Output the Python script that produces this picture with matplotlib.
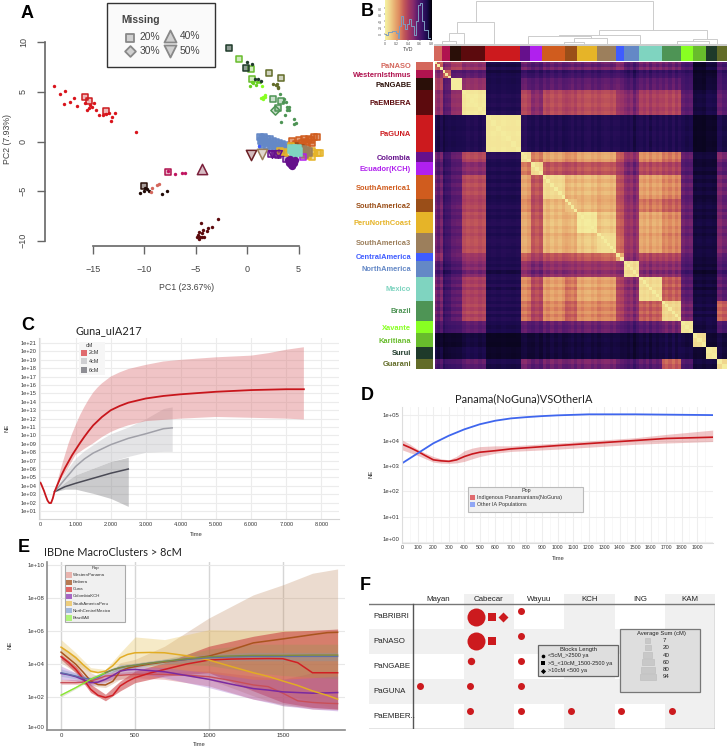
import numpy as np
import matplotlib
matplotlib.use("Agg")
import matplotlib.pyplot as plt
from matplotlib.patches import Rectangle
from matplotlib.colors import LinearSegmentedColormap

W, H = 727, 749
plt.rcParams['font.family'] = ['Liberation Sans', 'DejaVu Sans']

#-------------------------------------------------------#
#                  Panel A : PCA points                  #
#-------------------------------------------------------#
dots_guna = [(-18.76,5.63),(-18.18,4.82),(-17.72,5.06),(-17.79,3.82),(-17.2,4.02),(-16.85,4.35),(-16.52,3.61),
             (-15.55,3.18),(-15.36,3.34),(-15.78,3.85),(-15.29,3.68),(-14.87,3.85),(-15.13,3.51),(-14.74,3.18),
             (-14.42,2.67),(-14.0,2.67),(-13.74,2.77),(-13.44,2.84),(-12.89,2.84),(-13.12,2.44),(-13.25,2.1),(-10.82,0.92)]
dots_isthmus = [(-7.67,-2.97),(-7.03,-3.24),(-6.35,-3.21),(-6.05,-3.14)]
dots_ngabe = [(-10.43,-5.16),(-10.04,-4.96),(-9.78,-4.79),(-9.52,-4.96),(-9.94,-4.66),(-8.26,-5.33),(-7.8,-4.99)]
dots_naso = [(-9.3,-4.72),(-9.36,-5.13),(-8.81,-4.39),(-8.61,-4.29)]
dots_embera = [(-4.53,-8.22),(-2.81,-7.78),(-3.4,-8.59),(-3.85,-8.76),(-3.88,-9.0),(-4.34,-8.92),(-4.72,-9.16),
               (-4.43,-9.26),(-4.76,-9.43),(-4.6,-9.6),(-4.92,-9.66),(-4.43,-9.66),(-4.72,-9.87),(-4.17,-9.6)]
dots_karitiana = [(0.27,5.6),(0.6,5.93),(0.92,6.03),(0.85,5.7),(1.24,6.03),(0.43,6.03)]
dots_surui = [(-0.06,8.02),(0.43,7.82),(0.75,6.34),(1.08,6.27),(1.34,6.13)]
dots_guarani = [(2.54,5.8),(2.86,5.8),(3.02,5.53),(2.8,5.66),(2.96,5.36)]
dots_xavante = [(1.3,4.35),(1.56,4.52),(1.76,4.45),(1.56,4.25),(1.72,4.69),(1.47,5.6)]
dots_brazil = [(3.18,4.76),(3.6,4.29),(3.74,4.02),(3.51,4.02),(3.83,3.51),(4.03,3.51),(3.9,3.18),(3.67,2.67),
               (3.25,1.93),(4.55,2.24),(4.71,1.9),(4.55,1.76),(4.1,3.18)]
dots_colombia = [(4.3,-2.0),(4.1,-2.2),(4.5,-2.2),(4.3,-2.4),(4.0,-1.9),(4.6,-1.9),(4.4,-2.1),(4.2,-1.8),(4.4,-2.5)]
dots_central = [(1.18,-0.5)]

sq_guna = [(-15.78,4.52),(-15.36,4.12),(-13.74,3.11)]
sq_isthmus = [(-7.74,-3.04)]
sq_ngabe = [(-10.0,-4.49)]
sq_karitiana = [(-0.77,8.35),(0.49,6.27),(0.33,7.31)]
sq_surui = [(-0.09,7.41),(-1.8,9.46)]
sq_guarani = [(2.08,6.91),(3.25,6.37)]
sq_brazil = [(2.54,4.32),(3.25,4.08),(3.02,3.41)]
sq_north = [(1.2,0.5),(1.4,0.4),(1.6,0.45),(1.9,0.3),(2.2,0.25),(2.5,0.1),(2.8,0.0),(3.1,-0.1),(3.4,-0.2),(3.7,-0.3),
            (1.3,0.1),(1.5,-0.1),(1.8,0.0),(2.1,-0.1),(2.4,-0.2),(2.7,-0.3),(3.0,-0.4),(3.3,-0.5),(3.6,-0.6),(3.9,-0.7),
            (1.4,-0.3),(1.9,-0.4),(2.3,-0.5),(2.7,-0.7),(3.1,-0.8),(3.5,-0.9)]
sq_sa1 = [(4.4,0.1),(4.7,-0.2),(5.0,0.2),(5.3,-0.1),(5.5,0.3),(5.7,0.0),(6.0,0.3),(6.2,0.2),(6.5,0.45),(6.75,0.5),
          (6.3,-0.1),(5.8,-0.3),(5.4,-0.45),(4.9,-0.45),(4.4,-0.4)]
sq_sa2 = [(4.6,-0.5),(5.2,-0.7)]
sq_peru = [(3.2,-1.0),(3.6,-1.1),(4.0,-1.2),(4.3,-0.4),(5.9,-1.5),(6.3,-1.6),(6.5,-1.2),(6.9,-1.2),(7.1,-1.2),(6.3,-1.0)]
sq_sa3 = [(5.3,-0.9),(5.6,-1.0),(5.9,-1.1),(5.5,-1.3)]
sq_mexico = [(4.4,-0.8),(4.6,-1.0),(4.9,-1.1),(4.5,-1.2),(4.8,-0.8)]
sq_colombia = [(2.3,-1.3),(2.7,-1.3),(3.0,-1.4),(3.3,-1.2),(3.8,-1.8)]
sq_ecuador = [(5.4,-1.6)]
dia_brazil = [(2.73,3.14)]
up_isthmus = [(-4.4,-2.81)]
down_isthmus = [(0.33,-1.4)]
down_sa3 = [(1.43,-1.3)]
down_colombia = [(2.4,-1.25),(3.0,-1.25)]

#-------------------------------------------------------#
#                  Panel B : TVD heatmap                 #
#-------------------------------------------------------#
groups = ["PaNASO","WesternIsthmus","PaNGABE","PaEMBERA","PaGUNA","Colombia","Ecuador(KCH)","SouthAmerica1",
          "SouthAmerica2","PeruNorthCoast","SouthAmerica3","CentralAmerica","NorthAmerica","Mexico","Brazil",
          "Xavante","Karitiana","Surui","Guarani"]
group_size = [8,8,11,24,35,10,12,23,12,20,19,8,15,23,19,12,13,11,10]
group_col = ["#d4675c","#b0134f","#2a0f08","#5c0a0d","#cc1a1e","#66108c","#b020ee","#d05c1e","#9a4e18","#e6b428",
             "#9c7f5c","#3f5cff","#6488c6","#7fd4c0","#4e9455","#88ff22","#68bc2c","#1e3a2a","#626c28"]
# upper triangle, each row starts on the diagonal
tvd_rows = [
 [.97,.40,.50,.42,.10,.32,.28,.33,.33,.33,.33,.40,.28,.35,.33,.25,.05,.08,.25],
 [.97,.30,.30,.10,.20,.20,.22,.22,.22,.22,.24,.18,.22,.22,.20,.05,.06,.20],
 [.97,.42,.10,.30,.28,.30,.30,.30,.30,.32,.25,.30,.30,.22,.05,.07,.22],
 [.97,.12,.52,.40,.55,.52,.55,.55,.45,.38,.50,.52,.30,.08,.10,.30],
 [.97,.13,.12,.12,.12,.12,.12,.12,.11,.12,.12,.10,.04,.05,.10],
 [.97,.66,.76,.70,.76,.76,.58,.42,.70,.64,.30,.07,.07,.35],
 [.97,.58,.55,.58,.58,.50,.36,.55,.52,.28,.07,.07,.30],
 [.97,.82,.83,.81,.57,.42,.76,.70,.32,.08,.08,.35],
 [.97,.81,.78,.57,.42,.66,.60,.32,.08,.08,.33],
 [.97,.85,.60,.44,.78,.70,.33,.08,.08,.35],
 [.97,.62,.44,.76,.68,.33,.08,.08,.35],
 [.97,.40,.52,.52,.30,.08,.08,.30],
 [.97,.40,.40,.25,.07,.07,.25],
 [.97,.60,.30,.08,.08,.30],
 [.97,.35,.09,.09,.60],
 [.97,.08,.09,.25],
 [.97,.06,.08],
 [.97,.08],
 [.97],
]
# level between the samples of one group
group_within = [.60,.62,.97,.96,.96,.93,.93,.92,.85,.96,.92,.80,.93,.92,.90,.95,.93,.96,.90]
# lighter and darker stripes across each group
group_stripes = [
 [.03,-.05,.05],[-.06,.0,.02],[0,.02],[-.02,.03,.0,.03,-.02,.02],[-.01,.01,-.01,.02,0,-.01,.01],
 [.03,.05,-.02],[-.03,.03,-.04],[.02,-.04,.03,-.03,.02,-.05],[-.03,.0,.04,-.02],[.02,-.03,.03,.04,-.02,.02],
 [-.03,.02,.04,.03,-.01,.03],[.02,-.02],[.03,-.02,.04,-.08,.02],[.02,-.03,.04,-.06,.03,-.02,.03],
 [-.02,.04,-.03,.05,-.04,.03],[.02,-.02,.01],[-.01,.01,-.02],[.01,-.01],[.04,-.03],
]
tvd_colors = ['#020208','#1a0a4c','#3a1266','#5a1a6e','#8a2c6c','#a83c60','#c45a58','#de8a60','#e8ae72','#f0d48c','#f5f2a2']
# x position of both children, merge height, height of both children
dendro = [
 (41.3,219,42.7,22.7,15),(22.3,60,22.7,11.7,.5),(15,29.3,11.7,4,.5),(8,22,4,.5,.5),
 (165,273,15,10,6),(125,205.7,10,9,.5),(94,157,9,.5,7.3),(140,173,7.3,3.3,.5),(130,150,3.3,1.5,.5),
 (259,283,6,4,.5),(243,275,4,1.7,1.7),(238,252,1.7,.5,.5),(269,281,1.7,.5,.5),
 (190,200,1.2,.3,.3),(98,106,1,.3,.3),(56,66,1,.3,.3),(3,12,1,.3,.3),(110,128,1,.3,.3),(170,186,1,.3,.3),(212,230,1,.3,.3),
]
hist_x = [0,.03,.1,.2,.27,.3,.33,.37,.42,.47,.5,.55,.6,.65,.7,.73,.79,.83,.88,1.0]
hist_y = [20,15,25,28,23,5,45,75,50,35,50,65,45,15,60,110,115,60,30,5]

#-------------------------------------------------------#
#                 Panel C : Guna_uIA217                  #
#-------------------------------------------------------#
c2_t = [0,25,50,100,150,200,250,300,350,400,500,600,700,800,900,1000,1125,1250,1375,1500,1750,2000,2250,2500,3000,3500,4000,5000,6000,7000,7500]
c2_mid = [4.37,4.15,3.9,3.4,2.8,2.25,1.95,1.95,2.5,3.3,4.3,5.3,6.15,6.9,7.65,8.3,9.1,9.85,10.55,11.2,12.2,13.0,13.5,13.9,14.4,14.7,14.9,15.2,15.4,15.5,15.5]
c2_ut = [400,500,600,700,800,900,1000,1125,1250,1375,1500,1625,1750,2000,2250,2500,3000,3500,4000,5000,6000,6500,7000,7500]
c2_up = [3.3,4.8,6.3,7.7,9.05,10.2,11.2,12.4,13.4,14.3,15.1,15.7,16.2,17.0,17.5,17.9,18.4,18.8,19.0,19.3,19.5,19.8,20.2,20.5]
c2_lt = [400,500,600,700,800,900,1000,1250,1500,1750,2000,2250,2500,3000,4000,5000,6000,7000,7500]
c2_lo = [3.3,4.1,4.9,5.5,6.2,6.95,7.67,8.4,9.05,9.8,10.4,10.85,11.2,11.7,12.0,12.2,12.1,12.0,11.9]
c4_t = [400,600,800,1000,1250,1500,1750,2000,2500,3000,3500,3750]
c4_mid = [3.3,4.3,5.3,6.3,7.2,7.9,8.4,8.9,9.65,10.2,10.8,10.9]
c4_up = [3.3,4.9,6.2,7.3,8.2,8.9,9.6,10.2,11.0,12.0,13.2,13.4]
c4_lo = [3.3,3.9,4.6,5.3,5.7,6.1,6.5,6.9,7.5,8.0,8.1,8.1]
c6_t = [400,700,1000,1500,2000,2500]
c6_mid = [3.3,3.9,4.3,4.9,5.5,6.0]
c6_up = [3.3,4.4,5.3,6.1,6.9,7.4]
c6_lo = [3.3,3.6,3.6,3.1,2.5,1.55]
c_labels = ["2cM","4cM","6cM"]

#-------------------------------------------------------#
#                     Panel D                            #
#-------------------------------------------------------#
d_t = [0,50,100,150,200,250,300,350,400,450,500,600,700,1000,1500,1700,2000]
d_red = [3.85,3.72,3.57,3.4,3.24,3.2,3.18,3.24,3.37,3.47,3.54,3.6,3.67,3.8,4.0,4.08,4.13]
d_red_up = [4.02,3.85,3.65,3.5,3.37,3.28,3.24,3.38,3.6,3.7,3.76,3.79,3.79,3.9,4.11,4.24,4.41]
d_red_lo = [3.63,3.52,3.41,3.28,3.15,3.11,3.1,3.12,3.18,3.28,3.37,3.5,3.57,3.66,3.85,3.9,3.96]
d_bt = [0,100,200,300,400,500,600,700,800,900,1000,1200,1500,2000]
d_blue = [3.11,3.5,3.89,4.19,4.44,4.64,4.78,4.87,4.92,4.96,4.99,5.03,5.03,5.0]
d_labels = ["Indigenous Panamanians(NoGuna)","Other IA Populations"]

#-------------------------------------------------------#
#                     Panel E                            #
#-------------------------------------------------------#
e_t = [0,100,200,300,400,500,700,1000,1300,1500,1700,1870]
e_mid_t = [0,50,100,150,200,250,300,350,400,450,500,600,700,850,1000,1150,1300,1400,1500,1600,1700,1800,1870]
e_pops = ["WesternPanama","Embera","Guna","ColombiaKCH","SouthAmericaPeru","NorthCentralMexico","BrazilIAll"]
panama_mid = [2.87,2.87,2.87,2.9,2.97,3.1,3.27,3.3,3.31,3.35,3.37,3.37,3.37,3.32,3.23,3.0,2.73,2.63,2.23,1.77,1.67,1.62,1.6]
panama_up = [3.07,3.07,3.17,3.47,3.5,3.57,3.57,3.57,3.27,3.07,3.47,3.47]
panama_lo = [2.77,2.77,2.77,2.97,3.07,3.17,3.07,2.67,1.87,1.57,1.27,1.23]
embera_mid = [4.72,4.35,3.98,3.5,2.97,2.75,2.73,2.95,3.57,3.75,3.84,4.0,4.12,4.28,4.48,4.85,5.28,5.4,5.52,5.65,5.78,5.9,5.92]
embera_up = [5.08,4.48,3.47,3.07,4.08,4.28,5.08,6.79,8.19,8.8,9.5,9.76]
embera_lo = [4.08,3.47,2.67,2.57,3.07,3.27,3.47,3.07,2.07,1.47,1.37,1.27]
guna_mid = [4.44,4.1,3.67,3.1,2.47,2.1,1.97,2.1,2.67,2.95,3.17,3.45,3.67,4.0,4.24,4.3,4.32,4.33,4.32,4.08,3.47,3.47,3.47]
guna_up = [4.58,3.88,2.77,2.17,2.97,3.57,4.08,5.08,5.68,5.98,6.04,6.12]
guna_lo = [4.28,3.47,2.27,1.77,2.37,2.87,3.27,3.47,2.37,1.67,1.37,1.27]
colkch_mid = [3.43,3.35,3.23,3.05,2.87,2.9,3.07,3.3,3.57,3.65,3.67,3.6,3.53,3.3,3.07,2.78,2.51,2.42,2.31,2.27,2.23,2.25,2.27]
colkch_up = [3.88,3.47,3.07,3.37,3.78,3.88,3.78,3.47,3.07,3.07,3.17,3.27]
colkch_lo = [3.07,2.97,2.67,2.87,3.37,3.47,3.17,2.57,1.87,1.47,1.27,1.16]
peru_mid = [5.02,4.72,4.38,3.95,3.57,3.48,3.57,3.9,4.38,4.58,4.68,4.7,4.68,4.5,4.24,3.85,3.47,3.25,2.97,2.7,2.37,2.1,1.87]
peru_up = [5.48,4.68,3.78,3.67,4.68,5.64,5.48,6.08,6.04,6.04,6.04,6.04]
peru_lo = [4.58,3.98,3.47,3.47,3.88,3.98,3.67,3.47,2.67,2.27,1.67,1.27]
mexico_mid = [3.47,3.37,3.27,3.15,3.07,3.2,3.47,3.65,3.78,3.87,3.92,4.05,4.16,4.28,4.38,4.43,4.46,4.46,4.46,4.46,4.46,4.46,4.46]
mexico_up = [3.7,3.45,3.2,3.6,3.95,4.05,4.3,4.6,4.7,4.7,4.7,4.7]
mexico_lo = [3.25,3.1,2.95,3.35,3.65,3.8,4.0,4.2,4.2,4.2,4.2,4.2]
brazil_mid = [2.11,2.34,2.57,2.82,3.07,3.27,3.47,3.65,3.78,3.87,3.92,4.05,4.16,4.32,4.44,4.49,4.52,4.52,4.52,4.53,4.54,4.54,4.54]
brazil_up = [2.2,2.65,3.15,3.55,3.9,4.05,4.3,4.9,5.2,5.2,5.2,5.2]
brazil_lo = [2.0,2.5,3.0,3.4,3.65,3.8,4.0,3.9,3.5,3.3,3.2,3.1]

#-------------------------------------------------------#
#                     Panel F                            #
#-------------------------------------------------------#
f_rows = ["PaBRIBRI","PaNASO","PaNGABE","PaGUNA","PaEMBER.."]
f_cols = ["Mayan","Cabecar","Wayuu","KCH","ING","KAM"]
f_row = [0,0,0,0, 1,1,1, 2,2, 3,3,3, 4,4,4,4,4]
f_col = [1,1,1,2, 1,1,2, 1,2, 0,1,2, 1,2,3,4,5]
f_block = [0,1,2,0, 0,1,0, 0,0, 0,0,0, 0,0,0,0,0]
f_sum = [94,20,20,7, 94,20,7, 10,7, 7,7,7, 7,7,7,7,7]
f_blocks = ["<5cM_>2500 ya",">5_<10cM_1500-2500 ya",">10cM <500 ya"]
f_avg = [7,20,40,60,80,94]


def px_axes(fig, l, t, r, b, **kw):
    return fig.add_axes([l/W, 1-b/H, (r-l)/W, (b-t)/H], **kw)

def log_ax(ax, ylow, yhigh, xlow, xhigh, exps, gridcol, fs):
    ax.set_yscale('log')
    ax.set_xlim(xlow, xhigh)
    ax.set_ylim(10.0**ylow, 10.0**yhigh)
    ax.set_yticks([10.0**e for e in exps])
    ax.set_yticklabels(["1e+%02d" % e for e in exps], fontsize=fs, color='#333333')
    ax.minorticks_off()
    ax.tick_params(length=0, pad=2, labelsize=fs)
    ax.grid(True, color=gridcol, lw=0.8)
    ax.set_axisbelow(True)
    for s in ['top','right']:
        ax.spines[s].set_visible(False)

def band(ax, t, up, lo, col, alpha):
    ax.fill_between(t, 10.0**np.array(up), 10.0**np.array(lo), color=col, alpha=alpha, lw=0)

def line(ax, t, y, col, lw=1.2):
    ax.plot(t, 10.0**np.array(y), color=col, lw=lw)


fig = plt.figure(figsize=(W/100, H/100), dpi=100)

# -------------------- panel A --------------------
axA = px_axes(fig, 45.3, 20, 330, 246)
axA.set_xlim(-19.64, 8.05)
axA.set_ylim(-10.53, 12.25)
axA.patch.set_alpha(0)
for s in ['top','right']:
    axA.spines[s].set_visible(False)
for s in ['left','bottom']:
    axA.spines[s].set_color('#666666')
    axA.spines[s].set_linewidth(1.2)
axA.spines['left'].set_bounds(-10, 10)
axA.spines['bottom'].set_bounds(-15, 5)
axA.set_xticks([-15,-10,-5,0,5])
axA.set_xticklabels(["\u221215","\u221210","\u22125","0","5"], fontsize=6.5, color='#444444')
axA.set_yticks([-10,-5,0,5,10])
axA.set_yticklabels(["\u221210","\u22125","0","5","10"], fontsize=6.5, color='#444444', rotation=90, va='center')
axA.tick_params(length=5.5, width=1, color='#666666')
axA.tick_params(axis='x', pad=8.5)
axA.tick_params(axis='y', pad=7)

def dots(pts, col):
    p = np.array(pts)
    axA.scatter(p[:,0], p[:,1], s=6, color=col, lw=0, zorder=3)

def missing(pts, col, marker='s', size=24, alpha=0.3):
    p = np.array(pts)
    rgba = matplotlib.colors.to_rgba(col, alpha)
    axA.scatter(p[:,0], p[:,1], s=size, marker=marker, facecolor=rgba, edgecolor=col, lw=1.1, zorder=2)

missing(sq_guna, "#cc1a1e")
missing(sq_isthmus, "#b0134f")
missing(sq_ngabe, "#2a0f08", alpha=0.4)
missing(sq_karitiana, "#68bc2c")
missing(sq_surui, "#1e3a2a", alpha=0.5)
missing(sq_guarani, "#626c28")
missing(sq_brazil, "#4e9455")
missing(dia_brazil, "#4e9455", marker='D', size=22)
missing(sq_north, "#6488c6", alpha=0.7)
missing(sq_sa1, "#d05c1e", alpha=0.6)
missing(sq_sa2, "#9a4e18", alpha=0.6)
missing(sq_colombia, "#66108c")
missing(sq_peru, "#e6b428", alpha=0.5)
missing(sq_sa3, "#9c7f5c", alpha=0.9, size=40)
missing(sq_ecuador, "#b020ee")
missing(sq_mexico, "#7fd4c0", alpha=1.0, size=40)
missing(up_isthmus, "#7a1f3a", marker='^', size=55)
missing(down_isthmus, "#6a2025", marker='v', size=55)
missing(down_sa3, "#9c7f5c", marker='v', size=55)
missing(down_colombia, "#66108c", marker='v', size=30)
dots(dots_guna, "#d9141c")
dots(dots_isthmus, "#c01560")
dots(dots_ngabe, "#200a06")
dots(dots_naso, "#d4675c")
dots(dots_embera, "#5c0a0d")
dots(dots_karitiana, "#68d020")
dots(dots_surui, "#1e3a2a")
dots(dots_guarani, "#626c28")
dots(dots_xavante, "#88ff22")
dots(dots_brazil, "#4e9455")
dots(dots_central, "#3f5cff")
p = np.array(dots_colombia)
axA.scatter(p[:,0], p[:,1], s=28, color="#66108c", lw=0, zorder=3)

# -------------------- panel B --------------------
sizes = np.array(group_size)
edges = np.concatenate([[0], np.cumsum(sizes)])
centers = (edges[:-1] + edges[1:]) / 2.0
n = len(groups)
tvd = np.zeros((n, n))
for i in range(n):
    for k, v in enumerate(tvd_rows[i]):
        tvd[i, i+k] = v
        tvd[i+k, i] = v

# break each group into its stripes
sub_edges = [0.0]
sub_group = []
sub_off = []
for g in range(n):
    m = len(group_stripes[g])
    for k in range(m):
        sub_edges.append(edges[g] + (k+1.0)*sizes[g]/m)
        sub_group.append(g)
        sub_off.append(group_stripes[g][k])
nsub = len(sub_group)
cells = np.zeros((nsub, nsub))
for a in range(nsub):
    for b in range(nsub):
        ga, gb = sub_group[a], sub_group[b]
        if a == b:
            cells[a, b] = 0.98
        elif ga == gb:
            cells[a, b] = group_within[ga] + 0.3*(sub_off[a] + sub_off[b])
        else:
            cells[a, b] = tvd[ga, gb] + 0.6*(sub_off[a] + sub_off[b])*min(1.0, 6*tvd[ga, gb])
cmapB = LinearSegmentedColormap.from_list('tvd', tvd_colors)

axH = px_axes(fig, 434.8, 61.7, 727, 369)
axH.pcolormesh(sub_edges, sub_edges, np.clip(cells, 0, 1), cmap=cmapB, vmin=0, vmax=1, linewidth=0)
axH.set_xlim(edges[0], edges[-1])
axH.set_ylim(edges[-1], edges[0])
axH.set_xticks([])
axH.set_yticks([])
for s in axH.spines.values():
    s.set_visible(False)

axT = px_axes(fig, 434.3, 46, 727, 60.5)
axT.bar(centers, 1, width=sizes, color=group_col)
axT.set_xlim(edges[0], edges[-1])
axT.set_ylim(0, 1)
axT.axis('off')

axS = px_axes(fig, 416, 61.7, 433, 369)
axS.barh(centers, 1, height=sizes, color=group_col)
axS.set_ylim(edges[-1], edges[0])
axS.set_xlim(0, 1)
axS.set_xticks([])
axS.set_yticks(centers)
axS.set_yticklabels(groups, fontsize=5.4, fontweight='bold')
for lab, c in zip(axS.get_yticklabels(), group_col):
    lab.set_color(c)
axS.tick_params(length=0, pad=3.5)
for s in axS.spines.values():
    s.set_visible(False)

axD = px_axes(fig, 434.3, 0, 727, 45.5)
axD.set_xlim(edges[0], edges[-1])
axD.set_ylim(0, 44)
axD.axis('off')
for x0, x1, h, h0, h1 in dendro:
    axD.plot([x0, x0, x1, x1], [h0, h, h, h1], color='#cccccc', lw=0.7, solid_joinstyle='miter')
axD.axhline(0.3, color='#cccccc', lw=1.4)

axK = px_axes(fig, 385, 0, 431, 40)
axK.imshow(np.linspace(0, 1, 128)[None, :], cmap=cmapB.reversed(), aspect='auto', extent=[0, 1, 0, 125])
axK.step(hist_x, hist_y, where='mid', color='#7d9cc0', lw=0.7)
axK.set_xlim(0, 1)
axK.set_ylim(0, 125)
axK.set_xticks([0,.25,.5,.75,1.0])
axK.set_xticklabels(["0","0.2","0.4","0.6","0.8"], fontsize=2.6, color='#555555')
axK.set_yticks([20,40,60,80,100])
axK.set_yticklabels(["0","20","40","60","80"], fontsize=2.6, color='#555555', rotation=90, va='center')
axK.tick_params(length=1, width=0.3, pad=0.5)
axK.set_xlabel("TVD", fontsize=3.8, color='#444444', labelpad=0.5)
for s in axK.spines.values():
    s.set_visible(False)

# -------------------- panel C --------------------
axC = px_axes(fig, 39.3, 338, 339, 519)
log_ax(axC, 0.05, 21.6, -34, 8500, list(range(1, 22)), '#ececec', 4.1)
axC.set_xticks(range(0, 9000, 1000))
axC.set_xticklabels(["0","1.000","2.000","3.000","4.000","5.000","6.000","7.000","8.000"], fontsize=4.1, color='#333333')
for s in ['left','bottom']:
    axC.spines[s].set_color('#d4d4d4')
band(axC, c6_t, c6_up, c6_lo, '#8c8c90', 0.45)
band(axC, c4_t, c4_up, c4_lo, '#c4c4c8', 0.45)
axC.fill(c2_ut + c2_lt[::-1], 10.0**np.array(c2_up + c2_lo[::-1]), color='#d8666a', alpha=0.38, lw=0)
line(axC, c6_t, c6_mid, '#4a4a55', 1.1)
line(axC, c4_t, c4_mid, '#a0a0a8', 1.1)
line(axC, c2_t, c2_mid, '#c8161c', 1.3)

# -------------------- panel D --------------------
axPD = px_axes(fig, 402.3, 406.7, 712.7, 542.7)
log_ax(axPD, -0.02, 5.33, 0, 2000, [0,1,2,3,4,5], '#eeeeee', 4.3)
axPD.set_xticks(range(0, 2000, 100))
axPD.set_xticklabels([str(v) for v in range(0, 2000, 100)], fontsize=3.7, color='#333333')
axPD.set_xticks(range(50, 2000, 100), minor=True)
axPD.grid(True, which='minor', axis='x', color='#f5f5f5', lw=0.5)
axPD.tick_params(which='minor', length=0)
axPD.get_yticklabels()[0].set_va('bottom')
for s in ['left','bottom']:
    axPD.spines[s].set_color('#dddddd')
band(axPD, d_t, d_red_up, d_red_lo, '#d8666a', 0.38)
line(axPD, d_t, d_red, '#c8161c', 1.2)
line(axPD, d_bt, d_blue, '#3f66ee', 1.3)

# -------------------- panel E --------------------
axE = px_axes(fig, 47.3, 561.7, 345, 730)
log_ax(axE, 0.04, 10.2, -93, 1920, [0,2,4,6,8,10], '#e8e8e8', 4.3)
axE.set_xticks([0,500,1000,1500])
axE.set_xticklabels(["0","500","1000","1500"], fontsize=4.3, color='#333333')
axE.grid(True, axis='x', color='#d6d6d6', lw=1.0)
axE.get_yticklabels()[0].set_va('bottom')
for s in ['left','bottom']:
    axE.spines[s].set_color('#8a8a8a')
    axE.spines[s].set_linewidth(1.2)
band(axE, e_t, embera_up, embera_lo, '#c08a60', 0.30)
band(axE, e_t, peru_up, peru_lo, '#e8c560', 0.35)
band(axE, e_t, guna_up, guna_lo, '#c8383c', 0.55)
band(axE, e_t, panama_up, panama_lo, '#d05a60', 0.35)
band(axE, e_t, colkch_up, colkch_lo, '#9a5cc8', 0.32)
band(axE, e_t, mexico_up, mexico_lo, '#7a9ad0', 0.35)
band(axE, e_t, brazil_up, brazil_lo, '#8a9a50', 0.25)
line(axE, e_mid_t, panama_mid, '#c94f58', 1.0)
line(axE, e_mid_t, embera_mid, '#a9541e', 1.1)
line(axE, e_mid_t, guna_mid, '#d11f24', 1.1)
line(axE, e_mid_t, colkch_mid, '#7a2aa0', 1.1)
line(axE, e_mid_t, peru_mid, '#e2ac24', 1.1)
line(axE, e_mid_t, mexico_mid, '#5f6fa8', 1.0)
line(axE, e_mid_t[:7], brazil_mid[:7], '#88e830', 1.0)
line(axE, e_mid_t[6:], brazil_mid[6:], '#7f8c3c', 1.0)

# -------------------- panel F --------------------
axF = px_axes(fig, 369, 594.3, 715.3, 728.7)
axF.set_xlim(-0.88, 6)
axF.set_ylim(5, -0.4)
axF.axis('off')
for j in [1, 3, 5]:
    axF.add_patch(Rectangle((j, -0.4), 1, 5.4, color='#f0f0f0', lw=0, zorder=0))
for i in [1, 3]:
    axF.add_patch(Rectangle((-0.88, i), 6.88, 1, color='#f0f0f0', lw=0, zorder=0))
axF.plot([-0.88, 6], [0, 0], color='#777777', lw=1, zorder=1)
axF.plot([-0.88, 6], [5, 5], color='#777777', lw=1, zorder=1)
axF.plot([0, 0], [0, 5], color='#555555', lw=1, zorder=1)
axF.plot([6, 6], [0, 5], color='#999999', lw=1, zorder=1)
for j, c in enumerate(f_cols):
    axF.text(j+0.5, -0.2, c, ha='center', va='center', fontsize=5.7, color='#222222')
for i, r in enumerate(f_rows):
    axF.text(-0.8, i+0.5, r, ha='left', va='center', fontsize=5.7, color='#222222')

col_w, row_h = 50.3, 24.9
block_marker = ['o', 's', 'D']
def diam(v):
    return 7 + (v-7)*11.0/87
for r in range(5):
    for c in range(6):
        cell = [k for k in range(len(f_row)) if f_row[k] == r and f_col[k] == c]
        if not cell:
            continue
        rmax = max(diam(f_sum[k]) for k in cell) / 2.0
        left = 3.3
        for k in cell:
            d = diam(f_sum[k])
            cx = c + (left + d/2.0) / col_w
            cy = r + (3.3 + rmax) / row_h
            s = (d * 0.72) ** 2
            if f_block[k] == 2:
                s = s / 1.5
            axF.scatter([cx], [cy], s=s, marker=block_marker[f_block[k]], color='#cc1a1e', lw=0, zorder=3)
            left += d + 2.5

# -------------------- overlay (letters, titles, legends) --------------------
ov = fig.add_axes([0, 0, 1, 1], zorder=10)
ov.set_xlim(0, W)
ov.set_ylim(H, 0)
ov.axis('off')
ov.patch.set_alpha(0)

def letter(x, y, s):
    ov.text(x, y, s, fontsize=13, fontweight='bold', color='black', ha='left', va='center')
letter(21, 13, "A")
letter(361, 12, "B")
letter(21, 326, "C")
letter(361, 395, "D")
letter(18, 548, "E")
letter(360, 585, "F")

ov.text(76, 331, "Guna_uIA217", fontsize=7.9, family='Lato', va='center', color='#222222')
ov.text(455.5, 399, "Panama(NoGuna)VSOtherIA", fontsize=7.9, family='Lato', va='center', color='#222222')
ov.text(44, 552, "IBDne MacroClusters > 8cM", fontsize=7.9, family='Lato', va='center', color='#222222')

ov.text(187, 287, "PC1 (23.67%)", fontsize=6.3, color='#444444', ha='center', va='center')
ov.text(8, 139, "PC2 (7.93%)", fontsize=6.3, color='#444444', ha='center', va='center', rotation=90)
ov.text(196, 535, "Time", fontsize=4.2, color='#333333', ha='center', va='center')
ov.text(7, 428, "NE", fontsize=4.2, color='#333333', ha='center', va='center', rotation=90)
ov.text(558, 558, "Time", fontsize=4.2, color='#333333', ha='center', va='center')
ov.text(371, 474, "NE", fontsize=4.2, color='#333333', ha='center', va='center', rotation=90)
ov.text(199, 745, "Time", fontsize=4.2, color='#333333', ha='center', va='center')
ov.text(10, 645, "NE", fontsize=4.2, color='#333333', ha='center', va='center', rotation=90)

# legend A
ov.add_patch(Rectangle((106.7, 2.7), 108.3, 64, fc='#fafafa', ec='#333333', lw=1.0))
ov.text(121, 20, "Missing", fontsize=7.4, fontweight='bold', color='#444444', va='center')
miss_items = [(129.5, 37.5, 's', "20%"), (169.5, 36, '^', "40%"), (129.5, 50.5, 'D', "30%"), (169.5, 50.5, 'v', "50%")]
for x, y, m, t in miss_items:
    sz = 34 if m == 's' else (30 if m == 'D' else 75)
    ov.scatter([x], [y], s=sz, marker=m, facecolor='#d0d0d0', edgecolor='#888888', lw=1.3)
    ov.text(x + 10.5, y, t, fontsize=7.4, color='#444444', va='center')

# legend C
ov.add_patch(Rectangle((79, 342), 26, 32.5, fc='#f6f6f6', ec='none'))
ov.text(89, 345.5, "cM", fontsize=3.9, color='#333333', ha='center', va='center')
for y, lab, col in zip([353, 361.3, 370], c_labels, ['#e06a6e', '#cfcfd2', '#8e8e94']):
    ov.add_patch(Rectangle((81, y-3), 6, 6, fc=col, ec='none'))
    ov.text(89, y, lab, fontsize=3.9, color='#333333', va='center')

# legend D
ov.add_patch(Rectangle((468.3, 486.7), 115, 25.7, fc='#f0f0f0', ec='#bbbbbb', lw=0.8))
ov.text(526, 490.5, "Pop", fontsize=3.9, color='#333333', ha='center', va='center')
for y, lab, col in zip([497.3, 504.3], d_labels, ['#e06a6e', '#8fa6f5']):
    ov.add_patch(Rectangle((470, y-2.7), 5.4, 5.4, fc=col, ec='none'))
    ov.text(477, y, lab, fontsize=3.9, color='#333333', va='center')

# legend E
ov.add_patch(Rectangle((64.5, 565), 60.5, 56.7, fc='#f0f0f0', ec='#aaaaaa', lw=0.8))
ov.text(95, 568.5, "Pop", fontsize=3.2, color='#333333', ha='center', va='center')
e_swatch = ['#e9b4ae','#b87a52','#e06666','#a667c4','#edcd7c','#a2b8dc','#aef37a']
for k, (lab, col) in enumerate(zip(e_pops, e_swatch)):
    y = 575 + k*7.15
    ov.add_patch(Rectangle((66.3, y-2.6), 5.2, 5.2, fc=col, ec='none'))
    ov.text(73, y, lab, fontsize=3.2, color='#333333', va='center')

# legends F
ov.add_patch(Rectangle((538.3, 645.3), 79.4, 30.4, fc='#dedede', ec='#666666', lw=0.9))
ov.text(578.5, 649, "Blocks Length", fontsize=4.2, color='#222222', ha='center', va='center')
for k, (lab, m) in enumerate(zip(f_blocks, block_marker)):
    y = 656 + k*7.3
    ov.scatter([542.7], [y], s=7, marker=m, color='black', lw=0)
    ov.text(547.5, y, lab, fontsize=4.1, color='#222222', va='center')
ov.add_patch(Rectangle((620.3, 629.3), 79.4, 63, fc='#dedede', ec='#777777', lw=0.9))
ov.text(661, 633.5, "Average Sum (cM)", fontsize=4.2, color='#222222', ha='center', va='center')
for k, v in enumerate(f_avg):
    y = 640.5 + k*7.3
    w = 4.6 + (v-7)*11.5/87
    h = 4.6 + (v-7)*2.0/87
    ov.add_patch(Rectangle((647.7-w/2, y-h/2), w, h, fc='#c8c8c8', ec='#bbbbbb', lw=0.4))
    ov.text(662.5, y, str(v), fontsize=4.4, color='#222222', va='center')

fig.savefig("out.png", dpi=100)
